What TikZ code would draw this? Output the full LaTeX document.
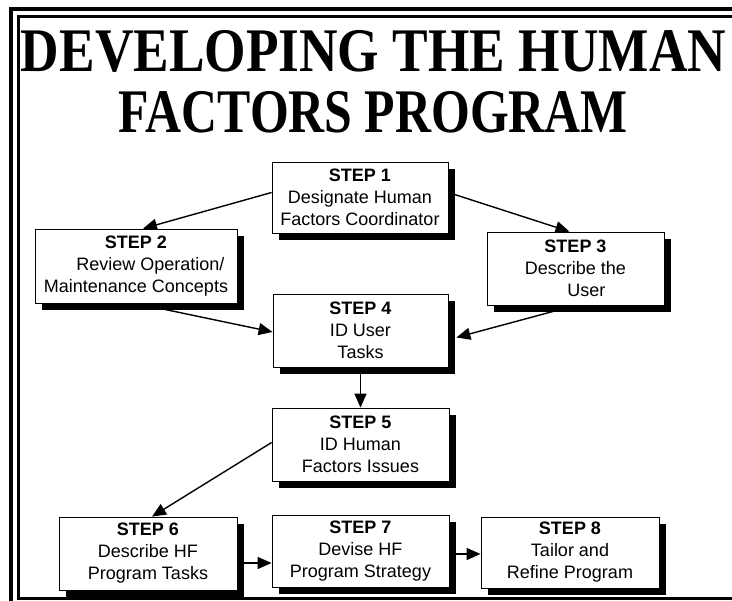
\documentclass[tikz,border=0pt]{standalone}
\usepackage{fontspec}
\setmainfont{Liberation Sans}
\newfontfamily\titlefont{Liberation Serif}
\usepackage{tikz}
\usetikzlibrary{arrows.meta,shadows,backgrounds}

\tikzset{
  stepbox/.style={draw, fill=white, line width=0.8pt, inner sep=0pt,
    minimum height=72pt, align=center,
    font=\fontsize{18}{22}\selectfont,
    drop shadow={shadow xshift=7pt, shadow yshift=-7pt, opacity=1, fill=black}},
  link/.style={line width=1.4pt, ->}
}

\begin{document}
\begin{tikzpicture}
            [x=1pt, y=-1pt, >={Triangle[length=14pt,width=12pt]}]
            \useasboundingbox (0, 0) rectangle (732, 601);
            \clip (0, 0) rectangle (732, 601);
            % double frame, cut at the right and the bottom
            \draw [line width=4pt] (10.5, 8.7) rectangle (745, 615);
            \draw [line width=3pt] (18.5, 16.3) rectangle (745, 598.5);
            % title
            \node (title1) [anchor=base, inner sep=0pt] at (373.5, 72)
              {\resizebox{705pt}{\height}{\titlefont\fontsize{62}{66}\selectfont\bfseries DEVELOPING THE HUMAN}};
            \node (title2) [anchor=base, inner sep=0pt] at (373.5, 133)
              {\resizebox{509pt}{\height}{\titlefont\fontsize{62}{66}\selectfont\bfseries FACTORS PROGRAM}};
            % steps
            \node (s1) [stepbox, minimum width=176pt, minimum height=71pt] at (360, 197.5)
              {\textbf{STEP 1}\\Designate Human\\Factors Coordinator};
            \node (s2) [stepbox, minimum width=202pt, minimum height=74pt] at (136, 266)
              {\textbf{STEP 2}\\\hspace*{1.6em}Review Operation/\\Maintenance Concepts};
            \node (s3) [stepbox, minimum width=177pt, minimum height=73pt] at (575.5, 268.5)
              {\textbf{STEP 3}\\Describe the\\\hspace*{1.2em}User};
            \node (s4) [stepbox, minimum width=175pt, minimum height=73pt] at (360.5, 330.5)
              {\textbf{STEP 4}\\ID User\\Tasks};
            \node (s5) [stepbox, minimum width=177pt, minimum height=73pt] at (360.5, 444.5)
              {\textbf{STEP 5}\\ID Human\\Factors Issues};
            \node (s6) [stepbox, minimum width=178pt, minimum height=73pt] at (148, 553.5)
              {\textbf{STEP 6}\\Describe HF\\Program Tasks};
            \node (s7) [stepbox, minimum width=177pt, minimum height=72pt] at (360.5, 551)
              {\textbf{STEP 7}\\Devise HF\\Program Strategy};
            \node (s8) [stepbox, minimum width=178pt, minimum height=71pt] at (570, 552.5)
              {\textbf{STEP 8}\\Tailor and\\Refine Program};
            % links
            \begin{scope}[on background layer]
              \draw [link] ([yshift=5pt]s1.west) -- ([xshift=7pt]s2.north);
              \draw [link] ([yshift=5pt]s1.east) -- ([xshift=-6pt]s3.north);
              \draw [link] (s2.south) -- ([yshift=-1.5pt]s4.west);
              \draw [link] (s3.south) -- ([xshift=8pt, yshift=-7pt]s4.east);
              \draw [link] (s4.south) -- (s5.north);
              \draw [link] ([yshift=2pt]s5.west) -- ([xshift=4pt]s6.north);
              \draw [link] ([yshift=-9.5pt]s6.east) -- ([yshift=-9.5pt]s6.east -| s7.west);
              \draw [link] ([yshift=-3pt]s7.east) -- ([yshift=-3pt]s7.east -| s8.west);
            \end{scope}
        \end{tikzpicture}
\end{document}
